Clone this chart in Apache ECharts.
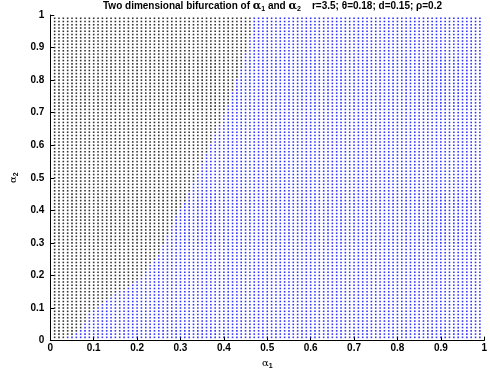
<!DOCTYPE html>
<html><head><meta charset="utf-8">
<script src="https://cdn.jsdelivr.net/npm/echarts@6/dist/echarts.min.js"></script>
<style>html,body{margin:0;padding:0;background:#fff}#c{width:490px;height:375px}</style>
</head><body><div id="c"></div>
<script>
// grid values of alpha1 / alpha2 (step 0.01)
var alpha1Values = [];
var alpha2Values = [];
for (var i = 1; i <= 99; i++) { alpha1Values.push(i / 100); alpha2Values.push(i / 100); }
// first "blue" column (alpha1 * 100) for each alpha2 row 0..100
var boundaryIndex = [3,4,6,7,8,8,9,9,9,10,
  11,12,13,14,15,16,18,19,20,21,
  22,22,23,23,24,25,25,26,26,26,
  27,27,27,28,28,28,29,29,29,30,
  30,31,31,32,32,32,33,33,33,34,
  34,34,35,35,35,36,36,36,37,37,
  37,38,38,38,39,39,39,40,40,40,
  41,41,41,42,42,42,42,43,43,43,
  43,44,44,44,45,45,45,45,45,46,
  46,46,46,46,47,47,47,47,47,47,47];
var xTicks = ['0','0.1','0.2','0.3','0.4','0.5','0.6','0.7','0.8','0.9','1'];
var yTicks = ['0','0.1','0.2','0.3','0.4','0.5','0.6','0.7','0.8','0.9','1'];

var blackPts = [], bluePts = [];
alpha2Values.forEach(function (a2) {
  var r = Math.round(a2 * 100);
  alpha1Values.forEach(function (a1) {
    var c = Math.round(a1 * 100);
    if (c >= boundaryIndex[r]) bluePts.push([a1, a2]); else blackPts.push([a1, a2]);
  });
});

var chart = echarts.init(document.getElementById('c'), null, {renderer: 'canvas'});
var fontF = 'Liberation Sans, Arial, Helvetica, sans-serif';
chart.setOption({
  animation: false,
  title: {
    left: 103, top: 0, padding: 0,
    text: '{b|Two dimensional bifurcation of }{g|α}{s|1}{b| and }{g|α}{s|2}{b|    r=3.5; θ=0.18; d=0.15; ρ=0.2}',
    textStyle: {
      rich: {
        b: {fontFamily: fontF, fontWeight: 'bold', fontSize: 10, color: '#000'},
        g: {fontFamily: 'DejaVu Serif, serif', fontSize: 11, color: '#000'},
        s: {fontFamily: fontF, fontWeight: 'bold', fontSize: 7, color: '#000', verticalAlign: 'bottom', padding: [6, 0, 0, 0]}
      }
    }
  },
  grid: {left: 47, right: 1, top: 15, bottom: 33},
  xAxis: {
    type: 'value', min: 0, max: 1, interval: 0.1,
    axisLine: {lineStyle: {color: '#000', width: 1}},
    axisTick: {inside: true, length: 4, lineStyle: {color: '#000'}},
    splitLine: {show: false},
    axisLabel: {color: '#000', fontFamily: fontF, fontWeight: 'bold', fontSize: 10, margin: 3,
      formatter: function (v) { return xTicks[Math.round(v * 10)]; }},
    name: '{g|α}{s|1}', nameLocation: 'middle', nameGap: 13,
    nameTextStyle: {rich: {
      g: {fontFamily: 'DejaVu Serif, serif', fontSize: 10, color: '#000'},
      s: {fontFamily: fontF, fontWeight: 'bold', fontSize: 7, color: '#000', padding: [6, 0, 0, 0]}
    }}
  },
  yAxis: {
    type: 'value', min: 0, max: 1, interval: 0.1,
    axisLine: {lineStyle: {color: '#000', width: 1}},
    axisTick: {inside: true, length: 4, lineStyle: {color: '#000'}},
    splitLine: {show: false},
    axisLabel: {color: '#000', fontFamily: fontF, fontWeight: 'bold', fontSize: 10, margin: 6,
      formatter: function (v) { return yTicks[Math.round(v * 10)]; }},
    name: '{g|α}{s|2}', nameLocation: 'middle', nameGap: 22,
    nameTextStyle: {rich: {
      g: {fontFamily: 'DejaVu Serif, serif', fontSize: 10, color: '#000'},
      s: {fontFamily: fontF, fontWeight: 'bold', fontSize: 7, color: '#000', padding: [6, 0, 0, 0]}
    }}
  },
  series: [
    {type: 'scatter', data: blackPts, symbol: 'rect', symbolSize: 1.6,
      itemStyle: {color: '#000'}, silent: true},
    {type: 'scatter', data: bluePts, symbol: 'rect', symbolSize: 1.6,
      itemStyle: {color: '#0000ff'}, silent: true}
  ]
});
</script></body></html>
